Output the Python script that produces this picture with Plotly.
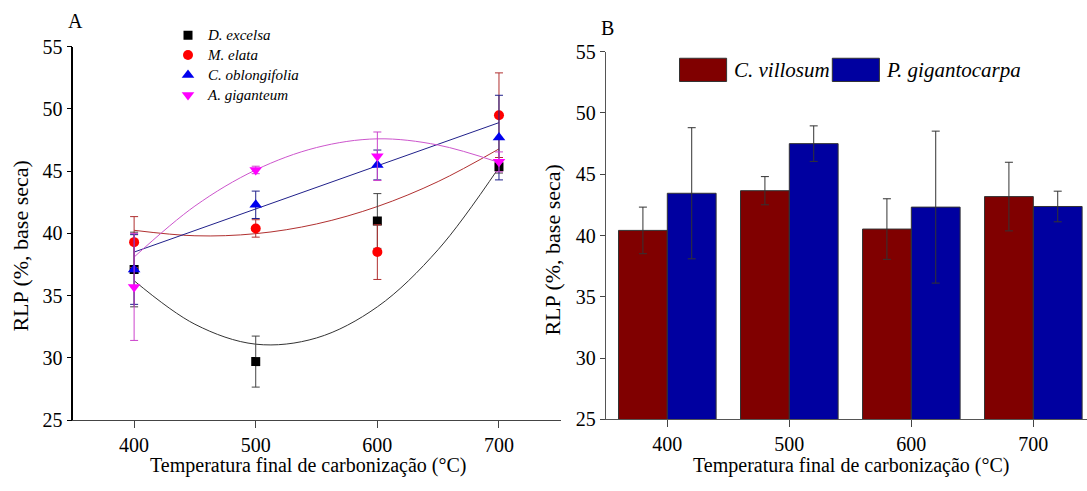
import plotly.graph_objects as go

W, H = 1087, 491

# ---------------- Panel A data ----------------
temps = [400, 500, 600, 700]
dex = [37.1, 29.7, 41.0, 45.35]
dex_err = [3.0, 2.05, 2.2, 0.5]
mel = [39.3, 40.4, 38.5, 49.5]
mel_err = [2.05, 0.7, 2.2, 3.4]
cob = [37.1, 42.3, 45.5, 47.7]
cob_err = [2.8, 1.1, 1.2, 3.4]
agi = [35.7, 45.1, 46.2, 45.75]
agi_err = [4.3, 0.3, 1.95, 0.8]

# fitted curves
fit_t = [400, 450, 500, 550, 600, 650, 700]
dex_fit = [36.2, 32.7, 31.1, 31.6, 34.1, 38.7, 45.3]
mel_fit = [40.25, 39.81, 39.98, 40.76, 42.16, 44.17, 46.79]
agi_fit = [38.1, 42.2, 45.1, 46.9, 47.6, 47.1, 45.7]
cob_fit_t = [400, 700]
cob_fit = [38.5, 48.9]

# ---------------- Panel B data ----------------
cats = ["400", "500", "600", "700"]
cvi = [40.42, 43.66, 40.53, 43.18]
cvi_err = [1.9, 1.15, 2.47, 2.8]
pgi = [43.45, 47.5, 42.32, 42.37]
pgi_err = [5.35, 1.45, 6.2, 1.25]

FONT = "Liberation Serif"
RED_BAR = "#800000"
BLUE_BAR = "#0000A0"


def px(x):
    return x / W


def py(y):
    # vertical pixel of the photographed picture -> paper fraction
    return 1 - ((y - 9.7) / 0.962) / H


fig = go.Figure()

# fit lines (panel A)
fig.add_trace(go.Scatter(x=fit_t, y=dex_fit, mode="lines", line=dict(color="#333333", width=1, shape="spline"),
                         showlegend=False, xaxis="x", yaxis="y", hoverinfo="skip"))
fig.add_trace(go.Scatter(x=fit_t, y=mel_fit, mode="lines", line=dict(color="#b03030", width=1, shape="spline"),
                         showlegend=False, xaxis="x", yaxis="y", hoverinfo="skip"))
fig.add_trace(go.Scatter(x=cob_fit_t, y=cob_fit, mode="lines", line=dict(color="#20208a", width=1),
                         showlegend=False, xaxis="x", yaxis="y", hoverinfo="skip"))
fig.add_trace(go.Scatter(x=fit_t, y=agi_fit, mode="lines", line=dict(color="#cc55cc", width=1, shape="spline"),
                         showlegend=False, xaxis="x", yaxis="y", hoverinfo="skip"))

series = [
    ("D. excelsa", dex, dex_err, "black", "#444444", "square", 9),
    ("M. elata", mel, mel_err, "#ff0000", "#b03030", "circle", 10),
    ("C. oblongifolia", cob, cob_err, "#0000ee", "#20208a", "triangle-up", 11),
    ("A. giganteum", agi, agi_err, "#ff00ff", "#cc44cc", "triangle-down", 11),
]
for name, vals, errs, col, ecol, sym, sz in series:
    fig.add_trace(go.Scatter(
        x=temps, y=vals, mode="markers",
        name='<span style="font-size:15px"><i>%s</i></span>' % name,
        marker=dict(symbol=sym, size=sz, color=col, line=dict(width=0)),
        error_y=dict(type="data", array=errs, visible=True, color=ecol, thickness=1, width=4),
        xaxis="x", yaxis="y", legend="legend",
    ))

# bars (panel B)
fig.add_trace(go.Bar(x=cats, y=cvi, name="C. villosum", marker=dict(color=RED_BAR, line=dict(color="#333333", width=1)),
                     error_y=dict(type="data", array=cvi_err, visible=True, color="#333333", thickness=1, width=4),
                     xaxis="x2", yaxis="y2", showlegend=False))
fig.add_trace(go.Bar(x=cats, y=pgi, name="P. gigantocarpa", marker=dict(color=BLUE_BAR, line=dict(color="#333333", width=1)),
                     error_y=dict(type="data", array=pgi_err, visible=True, color="#333333", thickness=1, width=4),
                     xaxis="x2", yaxis="y2", showlegend=False))

tickfont = dict(family=FONT, size=20, color="black")

fig.update_layout(
    width=W, height=H, autosize=False,
    margin=dict(l=0, r=0, t=0, b=0),
    paper_bgcolor="white", plot_bgcolor="white",
    barmode="group", bargap=0.2, bargroupgap=0,
    showlegend=True,
    legend=dict(x=px(168), y=py(19.0), xanchor="left", yanchor="top", bgcolor="rgba(0,0,0,0)",
                font=dict(family=FONT, size=13, color="black"), borderwidth=0, tracegroupgap=0),
    xaxis=dict(domain=[px(73.3), px(561)], range=[350, 751], tickvals=temps, ticks="outside", ticklen=7,
               tickcolor="#444", showline=True, linecolor="#444", linewidth=1, showgrid=False, zeroline=False,
               tickfont=tickfont, anchor="y"),
    yaxis=dict(domain=[py(421.7), py(45.7)], range=[25, 55], dtick=5, tick0=25, ticks="outside", ticklen=5,
               tickcolor="black", showline=True, linecolor="black", linewidth=1.5, showgrid=False, zeroline=False,
               tickfont=tickfont, anchor="x"),
    xaxis2=dict(domain=[px(605.7), 1.0], type="category", categoryorder="array", categoryarray=cats,
                range=[-0.505, 3.44], ticks="outside", ticklen=7, tickcolor="#444", showline=True,
                linecolor="#555", linewidth=1, showgrid=False, zeroline=False, tickfont=tickfont, anchor="y2"),
    yaxis2=dict(domain=[py(421), py(50.7)], range=[25, 55], dtick=5, tick0=25, ticks="outside", ticklen=5,
                tickcolor="#444", showline=True, linecolor="#555", linewidth=1, showgrid=False, zeroline=False,
                tickfont=tickfont, anchor="x2"),
)

ann = []
P = dict(xref="paper", yref="paper", showarrow=False)
# panel letters
ann.append(dict(x=px(75), y=py(20), text="A", xanchor="center", yanchor="middle",
                font=dict(family=FONT, size=20, color="black"), **P))
ann.append(dict(x=px(607), y=py(27), text="B", xanchor="center", yanchor="middle",
                font=dict(family=FONT, size=20, color="black"), **P))
# axis titles
xt = "Temperatura final de carbonização (°C)"
yt = "RLP (%, base seca)"
for cx, cy in [(308, 467), (851, 467)]:
    ann.append(dict(x=px(cx), y=py(cy), text=xt, xanchor="center", yanchor="middle",
                    font=dict(family=FONT, size=20, color="black"), **P))
for cx, cy in [(21, 247), (553, 251)]:
    ann.append(dict(x=px(cx), y=py(cy), text=yt, xanchor="center", yanchor="middle",
                    textangle=-90, font=dict(family=FONT, size=22, color="black"), **P))
# legend for panel B
ann.append(dict(x=px(732), y=py(69), text="<i>C. villosum</i>", xanchor="left", yanchor="middle",
                font=dict(family=FONT, size=21, color="black"), **P))
ann.append(dict(x=px(884), y=py(69), text="<i>P. gigantocarpa</i>", xanchor="left", yanchor="middle",
                font=dict(family=FONT, size=21, color="black"), **P))
fig.update_layout(annotations=ann)

fig.update_layout(shapes=[
    dict(type="rect", xref="paper", yref="paper", x0=px(679.5), x1=px(726.6), y0=py(80.7), y1=py(57.3),
         fillcolor=RED_BAR, line=dict(color="#333333", width=1)),
    dict(type="rect", xref="paper", yref="paper", x0=px(832.3), x1=px(879.4), y0=py(80.7), y1=py(57.3),
         fillcolor=BLUE_BAR, line=dict(color="#333333", width=1)),
])

fig.write_html(
    "out.html",
    config={"displayModeBar": False},
    post_script="document.body.style.margin='0';document.body.style.overflow='hidden';"
                "document.documentElement.style.overflow='hidden';",
)
